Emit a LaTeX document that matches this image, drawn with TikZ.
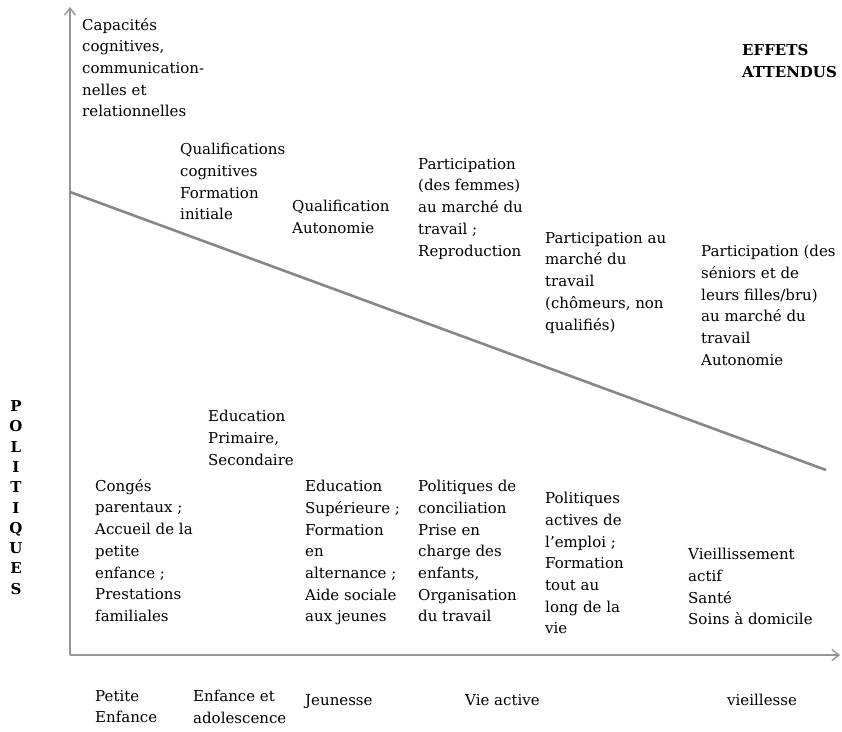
\documentclass[tikz,border=0pt]{standalone}
\usepackage{fontspec}
\newfontfamily\diagfont{DejaVu Serif}
\usepackage{tikz}
\usetikzlibrary{arrows.meta,positioning,calc}

\definecolor{axisgray}{RGB}{150,150,150}
\definecolor{trendgray}{RGB}{135,135,135}

\tikzset{
  lbl/.style={anchor=north west, inner sep=0pt, align=left,
    font={\diagfont\fontsize{15}{21.7}\selectfont}, execute at begin node=\strut},
  boldlbl/.style={lbl, font={\diagfont\bfseries\fontsize{15}{21.7}\selectfont}},
  axis/.style={draw=axisgray, line width=2.2pt, -{Straight Barb[length=7pt,width=11pt,line width=1.4pt]}},
  trend/.style={draw=trendgray, line width=2.6pt}
}

\begin{document}
\begin{tikzpicture}[x=1pt, y=-1pt]
\useasboundingbox (0,0) rectangle (842,731);
% axes
\coordinate (orig) at (70,655);
\coordinate (ytop) at (70,7);
\coordinate (xend) at (840,655);
\draw[axis] (orig) -- (ytop);
\draw[axis] (orig) -- (xend);
% trend line
\coordinate (tstart) at (70,192);
\coordinate (tend) at (826,470);
\draw[trend] (tstart) -- (tend);
% expected effects (above)
\node[lbl] (capac) at (82,18) {Capacités\\cognitives,\\communication-\\nelles et\\relationnelles};
\node[lbl] (qualcog) at (180,143) {Qualifications\\cognitives\\Formation\\initiale};
\node[lbl] (qualaut) at (292,200) {Qualification\\Autonomie};
\node[lbl] (partfem) at (418,158) {Participation\\(des femmes)\\au marché du\\travail ;\\Reproduction};
\node[lbl] (partcho) at (545,232) {Participation au\\marché du\\travail\\(chômeurs, non\\qualifiés)};
\node[lbl] (partsen) at (701,245) {Participation (des\\séniors et de\\leurs filles/bru)\\au marché du\\travail\\Autonomie};
\node[boldlbl] (effets) at (742,44) {EFFETS\\ATTENDUS};
% policies (below)
\node[lbl] (educprim) at (208,410) {Education\\Primaire,\\Secondaire};
\node[lbl] (conges) at (95,479) {Congés\\parentaux ;\\Accueil de la\\petite\\enfance ;\\Prestations\\familiales};
\node[lbl] (educsup) at (305,480) {Education\\Supérieure ;\\Formation\\en\\alternance ;\\Aide sociale\\aux jeunes};
\node[lbl] (concil) at (418,480) {Politiques de\\conciliation\\Prise en\\charge des\\enfants,\\Organisation\\du travail};
\node[lbl] (emploi) at (545,492) {Politiques\\actives de\\l’emploi ;\\Formation\\tout au\\long de la\\vie};
\node[lbl] (vieil) at (688,548) {Vieillissement\\actif\\Santé\\Soins à domicile};
% life stages
\foreach \x/\nm/\txt in {95/petite/{Petite\\Enfance}, 193/enfado/{Enfance et\\adolescence},
  305/jeunesse/{Jeunesse}, 465/vieact/{Vie active}, 727/vieillesse/{vieillesse}}
  \node[lbl] (\nm) at (\x,690) {\txt};
% vertical title
\foreach \l [count=\i] in {P,O,L,I,T,I,Q,U,E,S}
  \node[anchor=base, inner sep=0pt, font={\diagfont\bfseries\fontsize{15}{20}\selectfont}] (pol\i) at (16,{411.5+20.3*(\i-1)}) {\l};
\end{tikzpicture}
\end{document}
